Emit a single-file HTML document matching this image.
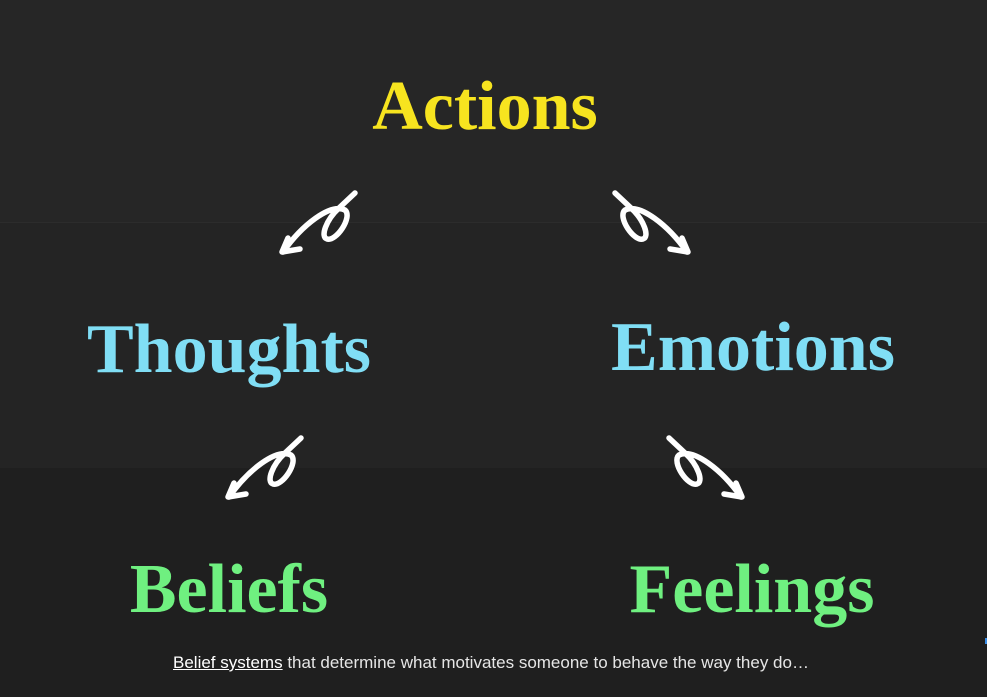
<!DOCTYPE html>
<html><head><meta charset="utf-8"><style>
html,body{margin:0;padding:0;}
body{width:987px;height:697px;position:relative;overflow:hidden;background:#1f1f1f;}
.b1{position:absolute;left:0;top:0;width:987px;height:222px;background:#262626;}
.b2{position:absolute;left:0;top:222px;width:987px;height:245px;background:#242424;border-top:1px solid #2c2c2c;}
.w{position:absolute;width:400px;text-align:center;font-family:"Liberation Serif",serif;font-weight:bold;font-size:70px;line-height:70px;white-space:nowrap;}
.cap{position:absolute;left:173px;top:653px;font-family:"Liberation Sans",sans-serif;font-size:17px;color:#e6e6e6;letter-spacing:0;white-space:nowrap;}
.cap u{color:#fff;}
</style></head><body>
<div class="b1"></div><div class="b2"></div>
<div class="w" style="left:285px;top:72px;color:#f7e41f">Actions</div>
<div class="w" style="left:29px;top:315px;color:#80def5">Thoughts</div>
<div class="w" style="left:553px;top:313px;color:#80def5">Emotions</div>
<div class="w" style="left:29px;top:555px;color:#6ff080">Beliefs</div>
<div class="w" style="left:552px;top:555px;color:#6ff080">Feelings</div>
<svg width="987" height="697" style="position:absolute;left:0;top:0" fill="none" stroke="#fff" stroke-width="5.5" stroke-linecap="round" stroke-linejoin="round">
<g id="a">
<path d="M301,438 L285,453 C272,465 266,482 273,484 C282,487 299,462 291,455 C276,448 248,470 229,497"/>
<path d="M234,483 L228,497 L246,494"/>
</g>
<use href="#a" transform="translate(54,-245)"/>
<use href="#a" transform="translate(970,0) scale(-1,1)"/>
<use href="#a" transform="translate(916,-245) scale(-1,1)"/>
</svg>
<div style="position:absolute;left:985px;top:638px;width:2px;height:6px;background:#3a8ee8"></div>
<div class="cap"><u>Belief systems</u> that determine what motivates someone to behave the way they do…</div>
</body></html>
